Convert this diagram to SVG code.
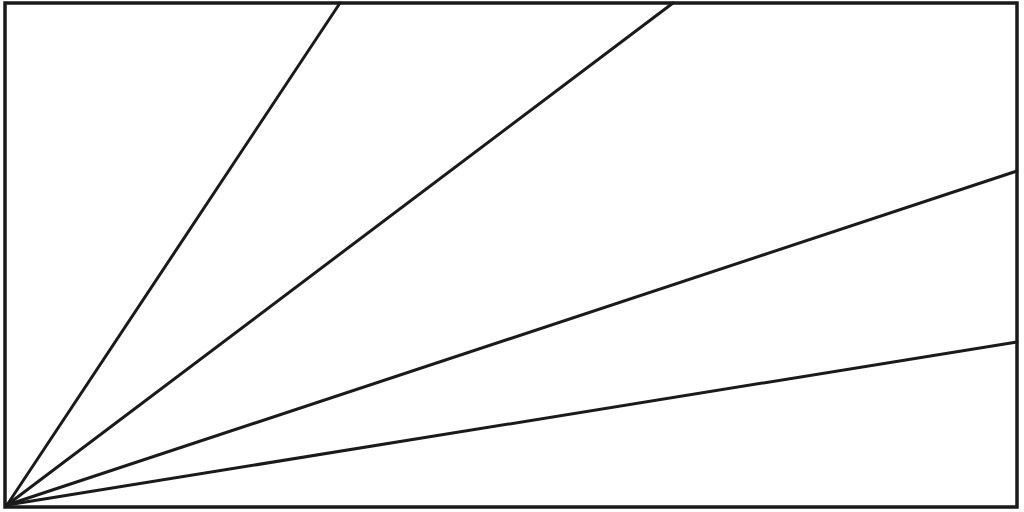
<svg xmlns="http://www.w3.org/2000/svg" width="1024" height="512" viewBox="0 0 1024 512">
<style>
.edge{stroke:#1a1a1a;stroke-width:3;fill:none;stroke-linecap:round}
.frame{stroke:#1a1a1a;stroke-width:3.5;fill:#ffffff}
</style>
<rect x="0" y="0" width="1024" height="512" fill="#ffffff"/>
<g id="frame">
<rect class="frame" x="5" y="3" width="1012" height="504"/>
</g>
<g id="connectors">
<line class="edge" x1="7" y1="505" x2="340" y2="3"/>
<line class="edge" x1="7" y1="505" x2="673" y2="3"/>
<line class="edge" x1="7" y1="505" x2="1017" y2="171"/>
<line class="edge" x1="7" y1="505" x2="1017" y2="342"/>
</g>
</svg>
